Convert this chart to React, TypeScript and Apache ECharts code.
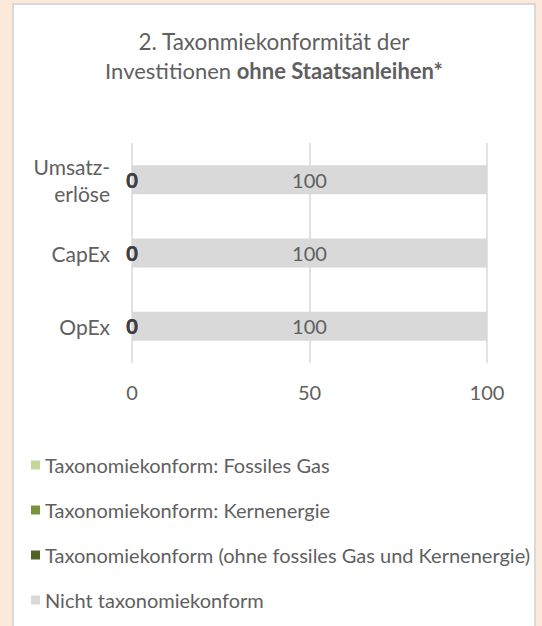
import React, { useEffect, useRef } from "react";
import * as echarts from "echarts";

const categories = ["Umsatz-\nerlöse", "CapEx", "OpEx"];
const seriesNames = [
  "Taxonomiekonform: Fossiles Gas",
  "Taxonomiekonform: Kernenergie",
  "Taxonomiekonform (ohne fossiles Gas und Kernenergie)",
  "Nicht taxonomiekonform",
];
const fossilGas = [0, 0, 0];
const nuclear = [0, 0, 0];
const alignedOther = [0, 0, 0];
const notAligned = [100, 100, 100];
const xTicks = [0, 50, 100];
const titleLine1 = "2. Taxonmiekonformität der";
const titleLine2a = "Investitionen ";
const titleLine2b = "ohne Staatsanleihen*";

const colors = ["#C3D69B", "#77933C", "#4F6228", "#D9D9D9"];
const FONT = "Lato";
const TEXT = "#606060";

export default function App() {
  const ref = useRef<HTMLDivElement>(null);
  useEffect(() => {
    if (!ref.current) return;
    const chart = echarts.init(ref.current, undefined, { renderer: "svg" });
    const values = [fossilGas, nuclear, alignedOther, notAligned];
    const series = values.map((v, i) => ({
      name: seriesNames[i],
      type: "bar" as const,
      stack: "total",
      data: v,
      barWidth: 29,
      itemStyle: { color: colors[i] },
      label: {
        show: true,
        position: "inside" as const,
        fontFamily: FONT,
        fontSize: 20,
        color: i < 3 ? "#404040" : TEXT,
        fontWeight: i < 3 ? ("bold" as const) : ("normal" as const),
      },
    }));
    chart.setOption({
      animation: false,
      backgroundColor: "#FDE9D9",
      textStyle: { fontFamily: FONT },
      graphic: [
        {
          type: "rect",
          z: -10,
          shape: { x: 13, y: 4, width: 522, height: 700 },
          style: { fill: "#FFFFFF", stroke: "#D9D9D9", lineWidth: 2 },
        },
        {
          type: "text",
          x: 274,
          y: 41,
          style: {
            text: titleLine1,
            fontFamily: FONT,
            fontSize: 22.5,
            fill: TEXT,
            align: "center",
            verticalAlign: "middle",
          },
        },
        {
          type: "text",
          x: 274,
          y: 70,
          style: {
            text: `{n|${titleLine2a}}{b|${titleLine2b}}`,
            align: "center",
            verticalAlign: "middle",
            rich: {
              n: { fontFamily: FONT, fontSize: 22, fill: TEXT, color: TEXT },
              b: { fontFamily: FONT, fontSize: 22, fontWeight: "bold", fill: TEXT, color: TEXT },
            },
          },
        },
      ],
      legend: {
        orient: "vertical",
        left: 26,
        top: 450,
        itemWidth: 9,
        itemHeight: 9,
        itemGap: 25,
        icon: "rect",
        data: seriesNames,
        textStyle: {
          fontFamily: FONT,
          fontSize: 20,
          color: TEXT,
          lineHeight: 20,
        },
      },
      grid: { left: 132, right: 55, top: 143, bottom: 263, containLabel: false },
      xAxis: {
        type: "value",
        min: xTicks[0],
        max: xTicks[xTicks.length - 1],
        interval: xTicks[1] - xTicks[0],
        axisLine: { show: false },
        axisTick: { show: false },
        splitLine: { show: true, lineStyle: { color: "#D9D9D9", width: 1.5 } },
        axisLabel: { fontFamily: FONT, fontSize: 20, color: TEXT, margin: 19 },
      },
      yAxis: {
        type: "category",
        data: categories,
        inverse: true,
        axisLine: { show: false },
        axisTick: { show: false },
        axisLabel: {
          fontFamily: FONT,
          fontSize: 21,
          color: TEXT,
          margin: 22,
          lineHeight: 27,
          align: "right",
        },
      },
      series,
    });
    return () => chart.dispose();
  }, []);
  return (
    <div style={{ position: "fixed", left: 0, top: 0, width: 542, height: 626, background: "#FDE9D9" }}>
      <div ref={ref} style={{ width: 542, height: 626 }} />
    </div>
  );
}
